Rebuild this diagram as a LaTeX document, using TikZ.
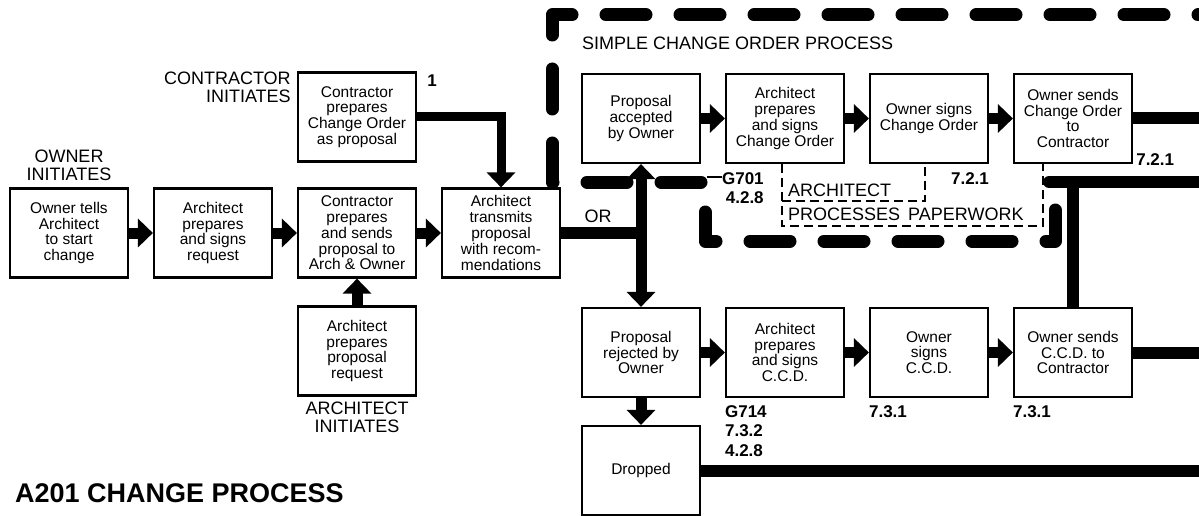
\documentclass[tikz,border=0pt]{standalone}
\usepackage{fontspec}
\setmainfont{Liberation Sans}
\usepackage{tikz}
\usetikzlibrary{arrows.meta, positioning}
\tikzstyle{process} = [rectangle, minimum width=118pt, minimum height=89pt, inner sep=2pt, align=center, draw=black, line width=2.2pt, fill=white, font=\fontsize{15.5}{15.8}\selectfont]
\tikzstyle{tag} = [inner sep=0pt, font=\fontsize{18}{18}\selectfont]
\tikzstyle{clause} = [inner sep=0pt, font=\bfseries\fontsize{17}{19.5}\selectfont]
\tikzstyle{arrow} = [line width=11pt, -{Triangle[length=15pt, width=28pt]}]
\tikzstyle{bar} = [line width=12pt]
\tikzstyle{border} = [line width=13pt, line cap=round, line join=round, dash pattern=on 40pt off 34pt, dash phase=39pt]
\tikzstyle{paper} = [line width=1.4pt, dash pattern=on 9pt off 5pt]

\begin{document}
\begin{tikzpicture}[x=1pt, y=-1pt, node distance=144pt]
	\fill[white] (0,0) rectangle (1199,516);
	\clip (0,0) rectangle (1199,516);

	\draw [border] (1199,15) -- (552,15) -- (552,182) -- (705,182) -- (705,241) -- (1055,241) -- (1055,182);

	\node (b1) [process] at (69,233) {Owner tells\\Architect\\to start\\change};
	\node (b2) [process, right of=b1] {Architect\\prepares\\and signs\\request};
	\node (b3) [process, right of=b2] {Contractor\\prepares\\and sends\\proposal to\\Arch \& Owner};
	\node (b4) [process, above of=b3, yshift=-28pt] {Contractor\\prepares\\Change Order\\as proposal};
	\node (b5) [process, below of=b3, yshift=26pt] {Architect\\prepares\\proposal\\request};
	\node (b6) [process, right of=b3] {Architect\\transmits\\proposal\\with recom-\\mendations};

	\node (acc) [process] at (641,118.5) {Proposal\\accepted\\by Owner};
	\node (aco) [process, right of=acc] {Architect\\prepares\\and signs\\Change Order};
	\node (osco) [process, right of=aco] {Owner signs\\Change Order};
	\node (sendco) [process, right of=osco] {Owner sends\\Change Order\\to\\Contractor};
	\node (rej) [process] at (641,352.5) {Proposal\\rejected by\\Owner};
	\node (accd) [process, right of=rej] {Architect\\prepares\\and signs\\C.C.D.};
	\node (osccd) [process, right of=accd] {Owner\\signs\\C.C.D.};
	\node (sendccd) [process, right of=osccd] {Owner sends\\C.C.D. to\\Contractor};
	\node (drop) [process, below of=rej, yshift=26pt] {Dropped};

	\node (ownerlbl) [tag, align=center, anchor=south] at ([yshift=7pt]b1.north) {OWNER\\INITIATES};
	\node (contrlbl) [tag, align=right, anchor=north east] at ([xshift=-6pt]b4.north west) {CONTRACTOR\\INITIATES};
	\node (one) [clause, anchor=north west] at ([xshift=10pt,yshift=-3pt]b4.north east) {1};
	\node (archlbl) [tag, align=center, anchor=north] at ([yshift=-5pt]b5.south) {ARCHITECT\\INITIATES};
	\node (simple) [tag, anchor=west] at (582,43) {SIMPLE CHANGE ORDER PROCESS};
	\node (or) [tag] at (598,216) {OR};
	\node (title) [anchor=west, inner sep=0pt, font=\bfseries\fontsize{27}{27}\selectfont] at (15,493) {A201 CHANGE PROCESS};

	\node (g701) [clause, align=right, anchor=north west] at ([xshift=-3pt,yshift=-8pt]aco.south west) {G701\\4.2.8};
	\draw [line width=1.4pt] ([yshift=-5pt]g701.north west) -- ++(-15,0);
	\node (n721a) [clause, anchor=north east] at ([yshift=-8pt]osco.south east) {7.2.1};
	\node (n721b) [clause, anchor=south west] at ([xshift=3pt,yshift=-2pt]sendco.south east) {7.2.1};
	\node (g714) [clause, align=left, anchor=north west] at ([yshift=-7pt]accd.south west) {G714\\7.3.2\\4.2.8};
	\node (n731a) [clause, anchor=north west] at ([yshift=-7pt]osccd.south west) {7.3.1};
	\node (n731b) [clause, anchor=north west] at ([yshift=-7pt]sendccd.south west) {7.3.1};

	\node (archtxt) [tag, anchor=west] at (788,190) {ARCHITECT};
	\node (papertxt) [tag, anchor=west] at (788,214) {PROCESSES\hspace{8pt}PAPERWORK};
	\draw [paper] ([xshift=-3pt]aco.south) -- ++(0,62) -| ([xshift=-30pt]sendco.south);
	\draw [paper] ([xshift=-3pt,yshift=-37pt]aco.south) -| ([xshift=-4pt]osco.south);

	\draw [arrow] (b1) -- (b2);
	\draw [arrow] (b2) -- (b3);
	\draw [arrow] (b3) -- (b6);
	\draw [arrow] (b5) -- (b3);
	\draw [arrow, line width=9pt] (b4) -| (b6);

	\coordinate (split) at (b6 -| acc);
	\draw [bar] (b6) -- (split);
	\draw [arrow] (split) -- (acc);
	\draw [arrow] (split) -- (rej);

	\draw [arrow] (acc) -- (aco);
	\draw [arrow] (aco) -- (osco);
	\draw [arrow] (osco) -- (sendco);
	\draw [arrow] (rej) -- (accd);
	\draw [arrow] (accd) -- (osccd);
	\draw [arrow] (osccd) -- (sendccd);
	\draw [arrow] (rej) -- (drop);

	\coordinate (coout) at (1199,118.5);
	\coordinate (ccdout) at (1199,352.5);
	\coordinate (dropout) at (1199,470.5);
	\coordinate (ccdfeed) at (1199,182);
	\coordinate (ccdbend) at (sendccd |- ccdfeed);
	\draw [bar] (sendco) -- (coout);
	\draw [bar] (sendccd) -- (ccdout);
	\draw [bar] (drop) -- (dropout);
	\draw [bar, line cap=round] (ccdfeed) -- ([xshift=-24pt]ccdbend);
	\draw [bar] (ccdbend) -- (sendccd);
\end{tikzpicture}
\end{document}
